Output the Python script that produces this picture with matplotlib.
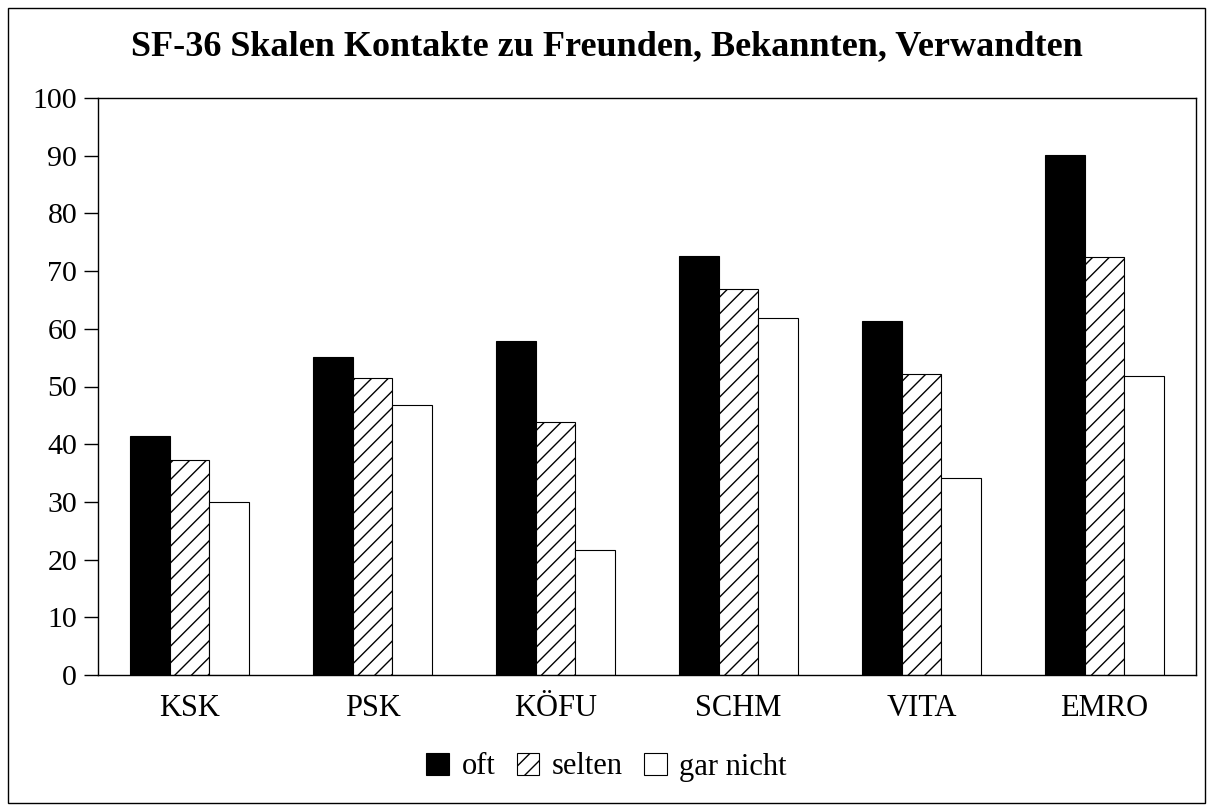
import numpy as np
import matplotlib.pyplot as plt
from matplotlib.patches import Rectangle

plt.rcParams['font.family'] = ['Liberation Serif', 'DejaVu Serif']
plt.rcParams['hatch.linewidth'] = 1.0

categories = ["KSK", "PSK", "KÖFU", "SCHM", "VITA", "EMRO"]
oft = [41.4, 55.1, 57.8, 72.6, 61.4, 90.1]
selten = [37.3, 51.5, 43.8, 66.9, 52.1, 72.4]
gar_nicht = [29.9, 46.8, 21.7, 61.9, 34.1, 51.8]

fig = plt.figure(figsize=(12.13, 8.11), dpi=100, facecolor='w')
ax = fig.add_axes([98 / 1213, 1 - 675 / 811, 1098 / 1213, 577 / 811])

x = np.arange(len(categories))
w = 0.218
ax.bar(x - w, oft, w, color='black', edgecolor='black', linewidth=0.8, label='oft')
ax.bar(x, selten, w, color='white', edgecolor='black', linewidth=0.8,
       hatch='//', label='selten')
ax.bar(x + w, gar_nicht, w, color='white', edgecolor='black', linewidth=0.8,
       label='gar nicht')

ax.set_xlim(-0.5, len(categories) - 0.5)
ax.set_ylim(0, 100)
ax.set_yticks(np.arange(0, 101, 10))
ax.set_xticks(x)
ax.set_xticklabels(categories)
ax.tick_params(axis='y', direction='out', length=10, width=1, labelsize=21.5, pad=5)
ax.tick_params(axis='x', length=0, labelsize=22, pad=14)
for s in ax.spines.values():
    s.set_linewidth(1)

fig.text(0.5, 1 - 47 / 811, "SF-36 Skalen Kontakte zu Freunden, Bekannten, Verwandten",
         ha='center', va='center', fontsize=26, fontweight='bold')

fig.legend(loc='center', bbox_to_anchor=(0.5, 1 - 767 / 811), ncol=3,
           frameon=False, fontsize=22, handlelength=0.75, handleheight=0.75,
           handletextpad=0.4, columnspacing=0.7)

# border round the whole figure
fig.patches.append(Rectangle((8 / 1213, 8 / 811), 1 - 16 / 1213, 1 - 16 / 811,
                             transform=fig.transFigure, fill=False,
                             edgecolor='black', linewidth=1))

fig.savefig("out.png", dpi=100)
